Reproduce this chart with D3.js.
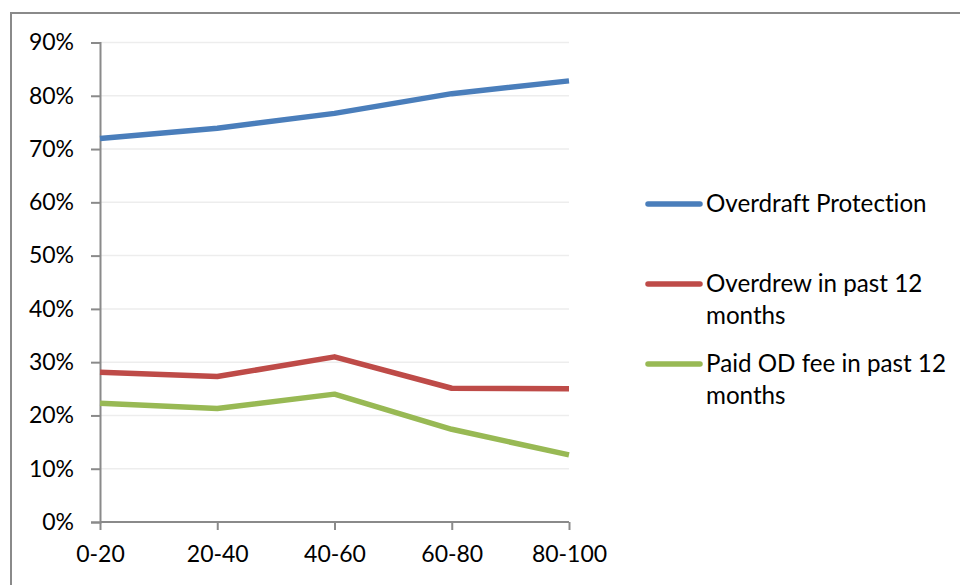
<!DOCTYPE html>
<html>
<head>
<meta charset="utf-8">
<script src="https://cdn.jsdelivr.net/npm/d3@7"></script>
<style>
  html, body { margin: 0; padding: 0; background: #fff; }
  svg { display: block; }
  text { font-family: Lato, "Open Sans", sans-serif; fill: #000; font-variant-ligatures: none; }
</style>
</head>
<body>
<svg id="chart" width="960" height="585"></svg>
<script>
// Age bands (percentile groups)
const categories = ["0-20", "20-40", "40-60", "60-80", "80-100"];

// Share of account holders, in percent
const overdraftProtection = [72.0, 73.9, 76.7, 80.4, 82.8];
const overdrewPast12 = [28.1, 27.3, 31.0, 25.1, 25.0];
const paidFeePast12 = [22.3, 21.3, 24.0, 17.4, 12.6];

const yTicks = [0, 10, 20, 30, 40, 50, 60, 70, 80, 90];

const seriesNames = [
  ["Overdraft Protection"],
  ["Overdrew in past 12", "months"],
  ["Paid OD fee in past 12", "months"]
];
const seriesColors = ["#4a7ebb", "#be4b48", "#98b954"];
const seriesValues = [overdraftProtection, overdrewPast12, paidFeePast12];

const svg = d3.select("#chart");
const axisFontSize = 23;
const legendFontSize = 24.2;

// Chart frame
svg.append("rect")
  .attr("x", 11).attr("y", 13)
  .attr("width", 1000).attr("height", 700)
  .attr("fill", "none")
  .attr("stroke", "#8a8a8a")
  .attr("stroke-width", 2);

const plot = { left: 100, right: 569, top: 42.5, bottom: 522 };

const x = d3.scalePoint()
  .domain(categories)
  .range([plot.left, plot.right]);

const y = d3.scaleLinear()
  .domain([0, 90])
  .range([plot.bottom, plot.top]);

// Horizontal gridlines
svg.append("g")
  .selectAll("line")
  .data(yTicks.filter(d => d > 0))
  .join("line")
  .attr("x1", plot.left).attr("x2", plot.right)
  .attr("y1", d => y(d)).attr("y2", d => y(d))
  .attr("stroke", "#ededed")
  .attr("stroke-width", 1.5);

// Y axis
const yAxis = svg.append("g")
  .attr("transform", `translate(${plot.left},0)`)
  .call(d3.axisLeft(y).tickValues(yTicks).tickFormat(d => d + "%").tickSize(9).tickPadding(17));
yAxis.select(".domain").attr("stroke", "#8a8a8a").attr("stroke-width", 2);
yAxis.selectAll(".tick line").attr("stroke", "#8a8a8a").attr("stroke-width", 2);
yAxis.selectAll("text").style("font-size", axisFontSize + "px").attr("fill", "#000");

// X axis
const xAxis = svg.append("g")
  .attr("transform", `translate(0,${plot.bottom})`)
  .call(d3.axisBottom(x).tickSize(8).tickPadding(16));
xAxis.select(".domain").attr("stroke", "#8a8a8a").attr("stroke-width", 2)
  .attr("d", `M${plot.left},0H${plot.right}`);
xAxis.selectAll(".tick line").attr("stroke", "#8a8a8a").attr("stroke-width", 2);
xAxis.selectAll("text").style("font-size", axisFontSize + "px").attr("fill", "#000");

// Series lines
const line = d3.line()
  .x((d, i) => x(categories[i]))
  .y(d => y(d));

svg.append("g")
  .selectAll("path")
  .data(seriesValues)
  .join("path")
  .attr("d", d => line(d))
  .attr("fill", "none")
  .attr("stroke", (d, i) => seriesColors[i])
  .attr("stroke-width", 5.5)
  .attr("stroke-linejoin", "round");

// Legend
const legendY = [204, 284, 364];
const legend = svg.append("g");
seriesNames.forEach((lines, i) => {
  const g = legend.append("g").attr("transform", `translate(0,${legendY[i]})`);
  g.append("line")
    .attr("x1", 648).attr("x2", 700)
    .attr("y1", 0).attr("y2", 0)
    .attr("stroke", seriesColors[i])
    .attr("stroke-width", 5.5)
    .attr("stroke-linecap", "round");
  lines.forEach((t, j) => {
    g.append("text")
      .attr("x", 706)
      .attr("y", j * 32)
      .attr("dy", "0.35em")
      .style("font-size", legendFontSize + "px")
      .text(t);
  });
});
</script>
</body>
</html>
